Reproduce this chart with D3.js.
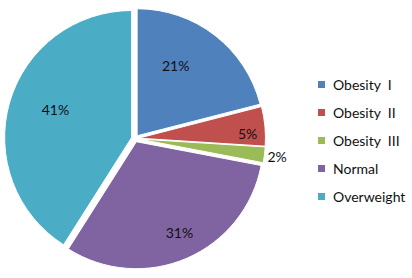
<!DOCTYPE html>
<html>
<head>
<meta charset="utf-8">
<script src="https://cdn.jsdelivr.net/npm/d3@7"></script>
<style>
  html, body { margin: 0; padding: 0; background: #fff; }
  svg { display: block; font-family: Lato, "Open Sans", sans-serif; }
</style>
</head>
<body>
<div id="chart"></div>
<script>
// BMI category shares (percent), clockwise from 12 o'clock
const categories = ["Obesity  I", "Obesity  II", "Obesity  III", "Normal", "Overweight"];
const shares = [21, 5, 2, 31, 41];
const colors = ["#4F81BD", "#C0504D", "#9BBB59", "#8064A2", "#4BACC6"];

// label placement (fraction of radius, angle tweak in degrees) - mimics Excel best fit
const labelRadius = [0.63, 0.86, 1.1, 0.79, 0.64];
const labelTurn = [-9, 3, 0, -2, 4];

const W = 412, H = 278;
const cx = 135, cy = 138.5, r = 127, explode = 3.5;

const svg = d3.select("#chart").append("svg")
    .attr("width", W).attr("height", H);

const pie = d3.pie().sort(null).value(d => d.v);
const data = pie(categories.map((c, i) => ({ c, v: shares[i], i })));
const arc = d3.arc().innerRadius(0).outerRadius(r);

const g = svg.append("g").attr("transform", `translate(${cx},${cy})`);

const slices = g.selectAll("g.slice").data(data).join("g")
    .attr("class", "slice")
    .attr("transform", d => {
        const a = (d.startAngle + d.endAngle) / 2;
        return `translate(${Math.sin(a) * explode},${-Math.cos(a) * explode})`;
    });

slices.append("path")
    .attr("d", arc)
    .attr("fill", d => colors[d.data.i])
    .attr("stroke", "#fff")
    .attr("stroke-width", 1);

slices.append("text")
    .attr("x", d => {
        const a = (d.startAngle + d.endAngle) / 2 + labelTurn[d.data.i] * Math.PI / 180;
        return Math.sin(a) * r * labelRadius[d.data.i];
    })
    .attr("y", d => {
        const a = (d.startAngle + d.endAngle) / 2 + labelTurn[d.data.i] * Math.PI / 180;
        return -Math.cos(a) * r * labelRadius[d.data.i];
    })
    .attr("text-anchor", "middle")
    .attr("dominant-baseline", "central")
    .attr("font-size", 14)
    .attr("fill", "#111")
    .text(d => d.data.v + "%");

// legend
const legend = svg.append("g").attr("transform", "translate(318,84.5)");
const items = legend.selectAll("g").data(categories).join("g")
    .attr("transform", (d, i) => `translate(0,${i * 28})`);
items.append("rect")
    .attr("x", 0).attr("y", -3.5).attr("width", 7).attr("height", 7)
    .attr("fill", (d, i) => colors[i]);
items.append("text")
    .attr("x", 15).attr("y", 0)
    .attr("dominant-baseline", "central")
    .attr("font-size", 14)
    .attr("fill", "#111")
    .style("white-space", "pre")
    .text(d => d);
</script>
</body>
</html>
